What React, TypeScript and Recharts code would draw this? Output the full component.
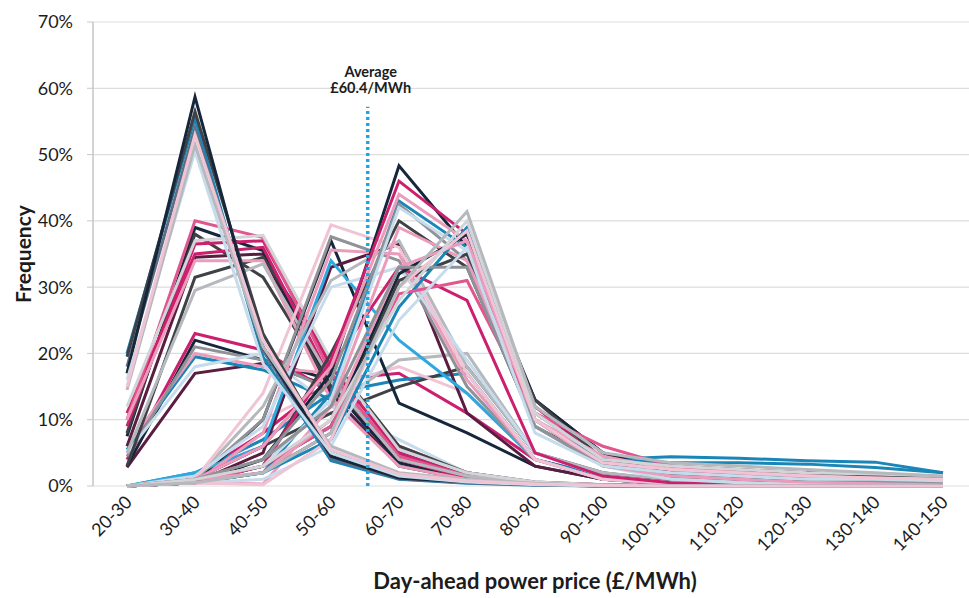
import React from 'react';
import { LineChart, Line, XAxis, YAxis, CartesianGrid, ReferenceLine } from 'recharts';

const categories = ['20-30', '30-40', '40-50', '50-60', '60-70', '70-80', '80-90', '90-100', '100-110', '110-120', '120-130', '130-140', '140-150'];
const binStarts = [20, 30, 40, 50, 60, 70, 80, 90, 100, 110, 120, 130, 140];
const binEdges = [20, 30, 40, 50, 60, 70, 80, 90, 100, 110, 120, 130, 140, 150];
const yTicks = [0, 10, 20, 30, 40, 50, 60, 70];
const averagePrice = 60.4;
const averageTop = 57.2;
const averageLabel = ['Average', '£60.4/MWh'];
const xTitle = 'Day-ahead power price (£/MWh)';
const yTitle = 'Frequency';

// Group A: high peak at 30-40
const a1 = [17, 58.7, 21, 4.5, 1.2, 0.6, 0.2, 0, 0, 0, 0, 0, 0];
const a2 = [19.5, 56.5, 23, 5, 1.5, 0.8, 0.3, 0.1, 0, 0, 0, 0, 0];
const a3 = [20, 55.5, 19.5, 3.8, 1, 0.4, 0.1, 0, 0, 0, 0, 0, 0];
const a4 = [18, 54, 20.5, 4.2, 1.1, 0.5, 0.2, 0, 0, 0, 0, 0, 0];
const a5 = [15, 53, 22, 5.5, 1.8, 0.8, 0.3, 0.1, 0, 0, 0, 0, 0];
const a6 = [14.5, 51.5, 21, 6, 2, 1, 0.4, 0.1, 0, 0, 0, 0, 0];
const a7 = [16, 50.5, 18.5, 5, 1.5, 0.6, 0.2, 0, 0, 0, 0, 0, 0];

// Group B: plateau 30-50
const b1 = [10, 40, 37.5, 17, 4.5, 1.5, 0.5, 0.2, 0, 0, 0, 0, 0];
const b2 = [7.5, 39, 35.5, 15, 3.5, 1, 0.4, 0.1, 0, 0, 0, 0, 0];
const b3 = [9, 36.5, 37, 18, 5, 1.5, 0.5, 0.1, 0, 0, 0, 0, 0];
const b4 = [11, 35, 36, 16, 4, 1.2, 0.3, 0, 0, 0, 0, 0, 0];
const b5 = [6, 34.5, 35, 14, 3, 1, 0.3, 0, 0, 0, 0, 0, 0];
const b6 = [12, 37, 37.8, 19, 5.5, 2, 0.6, 0.2, 0, 0, 0, 0, 0];
const b7 = [3, 31.5, 34.5, 19, 6, 2, 0.6, 0.2, 0, 0, 0, 0, 0];
const b8 = [8, 38, 31.5, 15, 5, 1.5, 0.4, 0.1, 0, 0, 0, 0, 0];
const b9 = [5, 29.5, 33.5, 16, 4, 1.5, 0.4, 0.1, 0, 0, 0, 0, 0];
const b10 = [10, 34, 34, 13, 3, 1, 0.3, 0, 0, 0, 0, 0, 0];

// Group C: low peak at 30-40
const c1 = [4, 23, 20.5, 14, 6, 2, 0.5, 0.2, 0, 0, 0, 0, 0];
const c2 = [3, 22, 19, 16, 4, 1.5, 0.5, 0.1, 0, 0, 0, 0, 0];
const c3 = [2.8, 17, 18.5, 15, 5, 1.5, 0.4, 0.1, 0, 0, 0, 0, 0];
const c4 = [5, 18, 20, 12, 7, 2, 0.5, 0.1, 0, 0, 0, 0, 0];
const c5 = [6, 20, 18, 17, 6, 2, 0.5, 0.1, 0, 0, 0, 0, 0];
const c6 = [5.5, 19.5, 17.5, 13, 5, 1.5, 0.4, 0, 0, 0, 0, 0, 0];
const c7 = [4.5, 21, 19, 14.5, 5.5, 2, 0.5, 0.1, 0, 0, 0, 0, 0];

// Group D: peak at 50-60
const d1 = [0, 1, 14, 39.4, 36, 17, 4, 1, 0.5, 0.2, 0, 0, 0];
const d2 = [0, 0.5, 10, 37, 12.5, 8, 3, 1, 0.3, 0.1, 0, 0, 0];
const d3 = [0, 1, 10, 37.6, 34, 15, 4, 1, 0.4, 0.1, 0, 0, 0];
const d4 = [0, 0.5, 8, 35.6, 35, 16, 4, 1, 0.3, 0.1, 0, 0, 0];
const d5 = [0, 2, 6, 34, 22, 14, 4, 1, 0.3, 0, 0, 0, 0];
const d6 = [0, 1, 12, 31, 37, 18, 5, 1.5, 0.5, 0.2, 0, 0, 0];
const d7 = [0, 1.5, 9, 30, 33, 19, 5, 1.5, 0.5, 0.2, 0, 0, 0];
const d8 = [0, 0.5, 5, 33, 36.5, 11, 3, 1, 0.3, 0, 0, 0, 0];

// Group E: peak at 60-70
const e1 = [0, 0.5, 4, 17, 48.3, 36, 13, 5, 2, 1, 0.5, 0.3, 0.2];
const e2 = [0, 1, 3, 19, 46, 38, 12, 4, 2, 2, 2, 1.5, 1];
const e3 = [0, 1, 6, 18, 33, 28, 5, 1.5, 0.5, 0.3, 0.2, 0.1, 0];
const e4 = [0, 1, 6, 18, 44, 37, 13, 4, 2, 1, 0.8, 0.5, 0.3];
const e5 = [0, 0.5, 2, 14, 43, 36, 11, 4, 4.4, 4.2, 3.8, 3.6, 2];
const e6 = [0, 1, 4, 16, 42.5, 34, 10, 3, 2, 1.5, 1, 0.8, 0.5];
const e7 = [0, 1, 3, 13, 42, 35.5, 9, 3, 1, 0.5, 0.3, 0.2, 0.1];
const e8 = [0, 0.5, 3, 20, 40, 33, 9, 3.5, 1.5, 1, 0.8, 0.6, 0.4];
const e9 = [0, 0.5, 0.3, 12, 39, 34, 10, 3, 1.5, 1, 0.6, 0.4, 0.3];

// Group F: peak at 70-80
const f1 = [0, 0.5, 2, 8, 30, 41.4, 12, 5, 3.5, 3, 2.5, 2, 1.5];
const f2 = [0, 1, 3, 10, 28, 40, 11, 4, 3, 2.5, 2, 1.8, 1.5];
const f3 = [0, 0.5, 2, 7, 27, 39, 10, 4, 3.5, 3.5, 3.3, 2.8, 2];
const f4 = [0, 0.5, 3, 9, 32, 38, 13, 5, 2, 1.5, 1, 1, 0.8];
const f5 = [0, 1, 2, 10, 33, 37, 10, 4.5, 2.5, 2, 1.5, 1.2, 1];
const f6 = [0, 0.5, 1, 6, 25, 36, 8, 3, 2, 1.5, 1, 1, 0.8];
const f7 = [0, 0.5, 2, 8, 31, 35, 13, 4, 3, 2.5, 2, 1.5, 1.2];
const f8 = [0, 1, 4, 12, 33, 33, 9, 3, 2, 1.5, 1, 0.8, 0.6];
const f9 = [0, 0.5, 3, 9, 29, 31, 11, 6, 3, 2, 1.5, 1, 0.8];
const f10 = [0, 0.5, 0.2, 7, 30, 38.5, 10, 3.5, 2.5, 2, 1.5, 1.2, 1];

// Group G: flat mid-range
const g1 = [0, 1, 4, 12, 19, 20, 5, 2, 1, 0.5, 0.3, 0.2, 0.1];
const g2 = [0, 1.5, 8, 16, 17, 11, 4, 1.5, 0.5, 0.3, 0.2, 0.1, 0];
const g3 = [0, 2, 7, 14, 16, 17, 4, 1.5, 0.5, 0.3, 0.2, 0.1, 0];
const g4 = [0, 1, 10, 15, 18, 14, 4, 1, 0.4, 0.2, 0.1, 0, 0];
const g5 = [0, 1, 6, 11, 15, 18, 5, 2, 0.8, 0.4, 0.2, 0.1, 0];

const seriesList: { key: string; values: number[] }[] = [
  { key: 'c3', values: c3 }, { key: 'c2', values: c2 }, { key: 'c6', values: c6 }, { key: 'c1', values: c1 },
  { key: 'c5', values: c5 }, { key: 'c7', values: c7 }, { key: 'c4', values: c4 },
  { key: 'g2', values: g2 }, { key: 'g3', values: g3 }, { key: 'g5', values: g5 }, { key: 'g4', values: g4 }, { key: 'g1', values: g1 },
  { key: 'b5', values: b5 }, { key: 'b2', values: b2 }, { key: 'b7', values: b7 }, { key: 'b8', values: b8 },
  { key: 'b3', values: b3 }, { key: 'b4', values: b4 }, { key: 'b1', values: b1 }, { key: 'b10', values: b10 },
  { key: 'b9', values: b9 }, { key: 'b6', values: b6 },
  { key: 'd2', values: d2 }, { key: 'd8', values: d8 }, { key: 'd5', values: d5 }, { key: 'd3', values: d3 },
  { key: 'd4', values: d4 }, { key: 'd6', values: d6 }, { key: 'd7', values: d7 }, { key: 'd1', values: d1 },
  { key: 'e1', values: e1 }, { key: 'e8', values: e8 }, { key: 'e2', values: e2 }, { key: 'e3', values: e3 },
  { key: 'e5', values: e5 }, { key: 'e4', values: e4 }, { key: 'e6', values: e6 }, { key: 'e7', values: e7 }, { key: 'e9', values: e9 },
  { key: 'f4', values: f4 }, { key: 'f7', values: f7 }, { key: 'f3', values: f3 }, { key: 'f9', values: f9 },
  { key: 'f5', values: f5 }, { key: 'f8', values: f8 }, { key: 'f6', values: f6 }, { key: 'f10', values: f10 },
  { key: 'f2', values: f2 }, { key: 'f1', values: f1 },
  { key: 'a3', values: a3 }, { key: 'a4', values: a4 }, { key: 'a2', values: a2 }, { key: 'a1', values: a1 },
  { key: 'a7', values: a7 }, { key: 'a6', values: a6 }, { key: 'a5', values: a5 },
];

const palette = {
  navy: '#16263b',
  darkGray: '#3e4146',
  teal: '#1a86b8',
  sky: '#2ea8de',
  magenta: '#cc1f6e',
  hotPink: '#e0568f',
  pink: '#eb9cbb',
  lightPink: '#f0c4d4',
  plum: '#5a1d42',
  gray: '#8f9297',
  silver: '#b5b8bc',
  lightGray: '#d2d4d7',
  paleBlue: '#c6dbeb',
  slate: '#5d6f85',
};

const seriesColors: Record<string, string> = {
  a1: palette.navy, a2: palette.darkGray, a3: palette.teal, a4: palette.slate, a5: palette.lightPink, a6: palette.silver, a7: palette.paleBlue,
  b1: palette.hotPink, b2: palette.navy, b3: palette.magenta, b4: palette.magenta, b5: palette.plum, b6: palette.lightGray, b7: palette.darkGray, b8: palette.darkGray, b9: palette.silver, b10: palette.pink,
  c1: palette.magenta, c2: palette.navy, c3: palette.plum, c4: palette.paleBlue, c5: palette.pink, c6: palette.teal, c7: palette.gray,
  d1: palette.lightPink, d2: palette.navy, d3: palette.gray, d4: palette.pink, d5: palette.sky, d6: palette.silver, d7: palette.paleBlue, d8: palette.plum,
  e1: palette.navy, e2: palette.magenta, e3: palette.magenta, e4: palette.pink, e5: palette.teal, e6: palette.gray, e7: palette.paleBlue, e8: palette.darkGray, e9: palette.pink,
  f1: palette.silver, f2: palette.lightGray, f3: palette.teal, f4: palette.navy, f5: palette.pink, f6: palette.paleBlue, f7: palette.darkGray, f8: palette.gray, f9: palette.hotPink, f10: palette.lightPink,
  g1: palette.silver, g2: palette.magenta, g3: palette.teal, g4: palette.lightPink, g5: palette.darkGray,
};

const data = categories.map((cat, i) => {
  const row: Record<string, number | string> = { mid: binStarts[i] + 5, cat };
  seriesList.forEach((s) => {
    row[s.key] = s.values[i];
  });
  return row;
});

const FONT = 'Lato, "Open Sans", sans-serif';
const TEXT = '#1c1c1c';

const XTick = (props: any) => {
  const { x, y, payload } = props;
  const idx = binStarts.indexOf(payload.value - 5);
  return (
    <g transform={`translate(${x + 2},${y + 11})`}>
      <text x={0} y={0} dy={6} textAnchor="end" transform="rotate(-45)" fill={TEXT} fontSize={18} fontFamily={FONT}>
        {categories[idx]}
      </text>
    </g>
  );
};

const XTitle = (props: any) => {
  const vb = props.viewBox || {};
  return (
    <text x={vb.x + vb.width / 2} y={vb.y + vb.height - 8} textAnchor="middle" fill={TEXT} fontSize={22} fontWeight={700} fontFamily={FONT}>
      {xTitle}
    </text>
  );
};

const YTitle = (props: any) => {
  const vb = props.viewBox || {};
  const cx = vb.x + 22;
  const cy = vb.y + vb.height / 2;
  return (
    <text x={cx} y={cy} transform={`rotate(-90, ${cx}, ${cy})`} textAnchor="middle" dominantBaseline="central" fill={TEXT} fontSize={21} fontWeight={700} fontFamily={FONT}>
      {yTitle}
    </text>
  );
};

const AvgLabel = (props: any) => {
  const vb = props.viewBox || {};
  const x = vb.x + 3;
  const y = vb.y;
  return (
    <g>
      <text x={x} y={y - 30} textAnchor="middle" fill={TEXT} fontSize={14.5} fontWeight={700} fontFamily={FONT}>{averageLabel[0]}</text>
      <text x={x} y={y - 14} textAnchor="middle" fill={TEXT} fontSize={14.5} fontWeight={700} fontFamily={FONT}>{averageLabel[1]}</text>
    </g>
  );
};

export default function App() {
  return (
    <div style={{ position: 'absolute', left: 0, top: 0, width: 969, height: 598, overflow: 'hidden', background: '#fff' }}>
      <LineChart width={985} height={598} data={data} margin={{ top: 22, right: 8, bottom: 0, left: 0 }}>
        <XAxis
          xAxisId="edges"
          type="number"
          domain={[20, 150]}
          ticks={binEdges}
          tick={false}
          tickLine={{ stroke: '#c8c8c8' }}
          tickSize={7}
          axisLine={false}
          height={1}
          allowDataOverflow
        />
        <XAxis
          xAxisId="bins"
          dataKey="mid"
          type="number"
          domain={[20, 150]}
          ticks={binStarts.map((b) => b + 5)}
          tick={<XTick />}
          tickLine={false}
          axisLine={false}
          tickSize={0}
          height={111}
          interval={0}
          label={<XTitle />}
        />
        <YAxis
          type="number"
          domain={[0, 70]}
          ticks={yTicks}
          width={93}
          tickFormatter={(v: number) => `${v}%`}
          tick={{ fill: TEXT, fontSize: 18, fontFamily: FONT }}
          tickLine={{ stroke: '#c8c8c8' }}
          tickSize={6}
          tickMargin={14}
          axisLine={{ stroke: '#bdbdbd' }}
          label={<YTitle />}
        />
        <CartesianGrid xAxisId="edges" stroke="#dddddd" strokeWidth={1.2} />
        {seriesList.map((s) => (
          <Line
            key={s.key}
            xAxisId="bins"
            dataKey={s.key}
            type="linear"
            stroke={seriesColors[s.key]}
            strokeWidth={3}
            strokeLinejoin="miter"
            dot={false}
            activeDot={false}
            isAnimationActive={false}
          />
        ))}
        <ReferenceLine
          xAxisId="bins"
          segment={[{ x: averagePrice, y: 0 }, { x: averagePrice, y: averageTop }]}
          stroke="#1ea8e2"
          strokeWidth={3.5}
          strokeDasharray="3 3"
          label={<AvgLabel />}
        />
      </LineChart>
    </div>
  );
}
